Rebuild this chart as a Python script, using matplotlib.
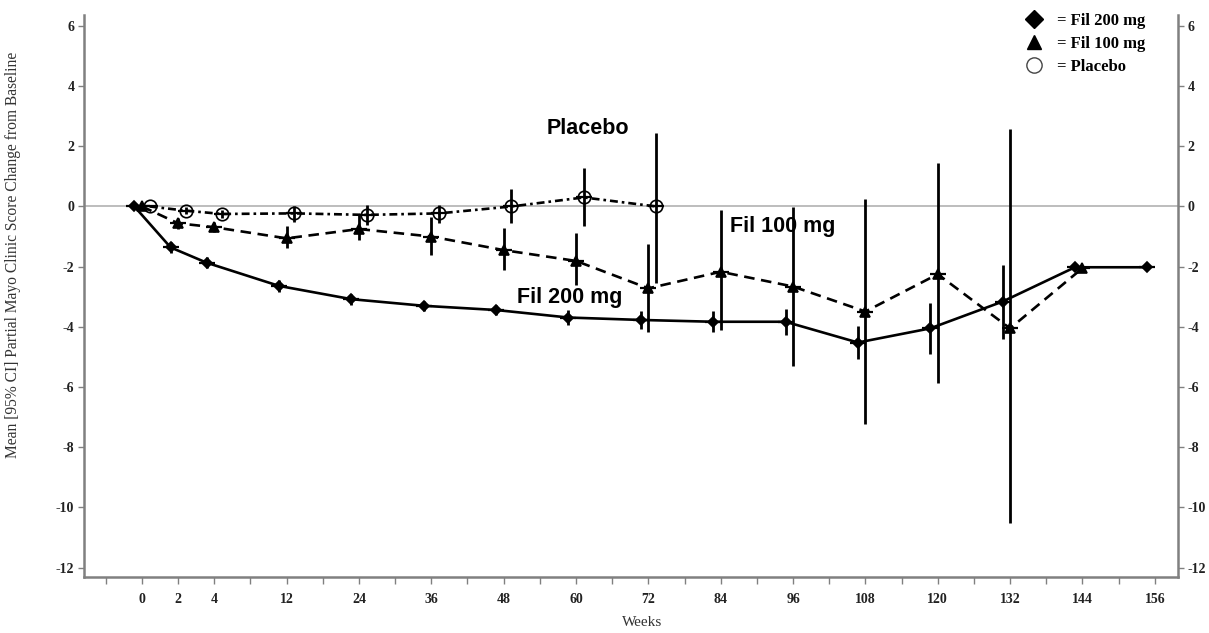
import numpy as np
import matplotlib
matplotlib.use("Agg")
import matplotlib.pyplot as plt
from matplotlib.lines import Line2D
from matplotlib.transforms import offset_copy

plt.rcParams["font.family"] = ["Liberation Serif", "DejaVu Serif"]
plt.rcParams["axes.unicode_minus"] = False

# Fil 200 mg
weeks_200 = [0, 2, 4, 12, 24, 36, 48, 60, 72, 84, 96, 108, 120, 132, 144, 156]
mean_200 = [0, -1.36, -1.87, -2.64, -3.08, -3.30, -3.44, -3.69, -3.77, -3.83, -3.83, -4.52, -4.05, -3.16, -2.02, -2.02]
low_200 = [0, -1.55, -2.05, -2.83, -3.26, -3.47, -3.59, -3.93, -4.08, -4.18, -4.27, -5.06, -4.91, -4.41, -2.02, -2.02]
high_200 = [0, -1.17, -1.69, -2.45, -2.90, -3.13, -3.29, -3.45, -3.46, -3.48, -3.39, -3.98, -3.20, -1.94, -2.02, -2.02]

# Fil 100 mg
weeks_100 = [0, 2, 4, 12, 24, 36, 48, 60, 72, 84, 96, 108, 120, 132, 144]
mean_100 = [0, -0.56, -0.69, -1.06, -0.75, -1.00, -1.45, -1.81, -2.72, -2.17, -2.66, -3.49, -2.25, -4.05, -2.05]
low_100 = [0, -0.75, -0.86, -1.39, -1.11, -1.61, -2.11, -2.61, -4.16, -4.10, -5.29, -7.23, -5.85, -10.52, -2.05]
high_100 = [0, -0.37, -0.52, -0.65, -0.28, -0.34, -0.70, -0.89, -1.25, -0.12, -0.03, 0.24, 1.43, 2.56, -2.05]

# Placebo
weeks_pbo = [0, 2, 4, 12, 24, 36, 48, 60, 72]
mean_pbo = [0, -0.14, -0.25, -0.23, -0.28, -0.23, 0.0, 0.30, 0.0]
low_pbo = [0, -0.26, -0.37, -0.50, -0.61, -0.55, -0.56, -0.65, -2.53]
high_pbo = [0, -0.02, -0.13, 0.0, 0.05, 0.05, 0.57, 1.27, 2.45]

labelled_weeks = [0, 2, 4, 12, 24, 36, 48, 60, 72, 84, 96, 108, 120, 132, 144, 156]
tick_weeks = [-2, 0, 2, 4, 8] + list(range(12, 157, 6))
y_ticks = list(range(-12, 7, 2))

# the week axis is stretched at the start: 0, 2, 4 one step apart, then 6 weeks a step
WEEK_KNOTS = [-20, 0, 2, 4, 12, 300]
POS_KNOTS = [-10, 0, 1, 2, 4, 52]


def fwd(w):
    return np.interp(w, WEEK_KNOTS, POS_KNOTS)


def inv(p):
    return np.interp(p, POS_KNOTS, WEEK_KNOTS)


def draw_series(ax, tr, weeks, mean, low, high, marker, ms, ls, mfc):
    mean = np.asarray(mean)
    yerr = [mean - np.asarray(low), np.asarray(high) - mean]
    ax.errorbar(weeks, mean, yerr=yerr, fmt="none", ecolor="k",
                elinewidth=2.0, capsize=0, transform=tr, zorder=3)
    ax.plot(weeks, mean, color="k", lw=1.9, ls=ls, marker=marker, ms=ms,
            mfc=mfc, mec="k", mew=1.2, transform=tr, zorder=4)
    ax.plot(weeks, mean, ls="none", marker="_", ms=12, mew=1.6,
            color="k", transform=tr, zorder=4)


fig = plt.figure(figsize=(12.09, 6.33), dpi=100)
ax = fig.add_axes([0.0695, 0.0889, 0.9046, 0.8874])
ax.set_xscale("function", functions=(fwd, inv))
ax.set_xlim(-3.2, 159.8)
ax.set_ylim(-12.3, 6.36)

ax.axhline(0, color="#b8b8b8", lw=1.3, zorder=1)

tr_200 = offset_copy(ax.transData, fig=fig, x=-5.4, y=0, units="points")
tr_100 = ax.transData
tr_pbo = offset_copy(ax.transData, fig=fig, x=5.6, y=0, units="points")

draw_series(ax, tr_pbo, weeks_pbo, mean_pbo, low_pbo, high_pbo,
            "o", 9, (0, (3, 1.5, 1, 1.5)), "none")
draw_series(ax, tr_100, weeks_100, mean_100, low_100, high_100,
            "^", 7, (0, (4, 2.5)), "k")
draw_series(ax, tr_200, weeks_200, mean_200, low_200, high_200,
            "D", 5.5, "-", "k")

for side in ["left", "bottom", "right"]:
    ax.spines[side].set_color("#808080")
    ax.spines[side].set_linewidth(1.8)
ax.spines["top"].set_visible(False)

ax.set_xticks(tick_weeks)
ax.set_xticklabels([str(w) if w in labelled_weeks else "" for w in tick_weeks])
ax.set_yticks(y_ticks)
ax.set_yticklabels([str(v) for v in y_ticks])
ax.tick_params(axis="x", direction="out", length=5, width=1, color="#808080",
               pad=7, labelsize=10)
ax.tick_params(axis="y", direction="out", length=4, width=1, color="#808080",
               pad=3, labelsize=10, right=True, labelright=True)
for lab in ax.get_xticklabels() + ax.get_yticklabels():
    lab.set_fontweight("bold")
    lab.set_color("#222222")

fig.text(0.0105, 0.598, "Mean [95% CI] Partial Mayo Clinic Score Change from Baseline",
         rotation=90, ha="center", va="center", fontsize=11.2, color="#333333")
fig.text(0.531, 0.017, "Weeks", ha="center", va="center", fontsize=11,
         color="#333333")

sans = ["Liberation Sans", "DejaVu Sans"]
ax.text(62, 2.6, "Placebo", ha="center", va="center", fontsize=15.5,
        fontweight="bold", family=sans)
ax.text(85.6, -0.68, "Fil 100 mg", ha="left", va="center", fontsize=15.5,
        fontweight="bold", family=sans)
ax.text(59, -3.04, "Fil 200 mg", ha="center", va="center", fontsize=15.5,
        fontweight="bold", family=sans)

handles = [
    Line2D([], [], ls="none", marker="D", ms=9, color="k"),
    Line2D([], [], ls="none", marker="^", ms=10, color="k"),
    Line2D([], [], ls="none", marker="o", ms=11, mfc="none", mec="#444444", mew=1),
]
leg = fig.legend(handles, ["= Fil 200 mg", "= Fil 100 mg", "= Placebo"],
                 loc="upper left", bbox_to_anchor=(0.848, 0.979),
                 frameon=False, handlelength=1.0, handletextpad=0.9,
                 borderpad=0, borderaxespad=0, labelspacing=0.42,
                 prop={"family": "Liberation Serif", "weight": "bold", "size": 12})

fig.savefig("out.png", dpi=100)
